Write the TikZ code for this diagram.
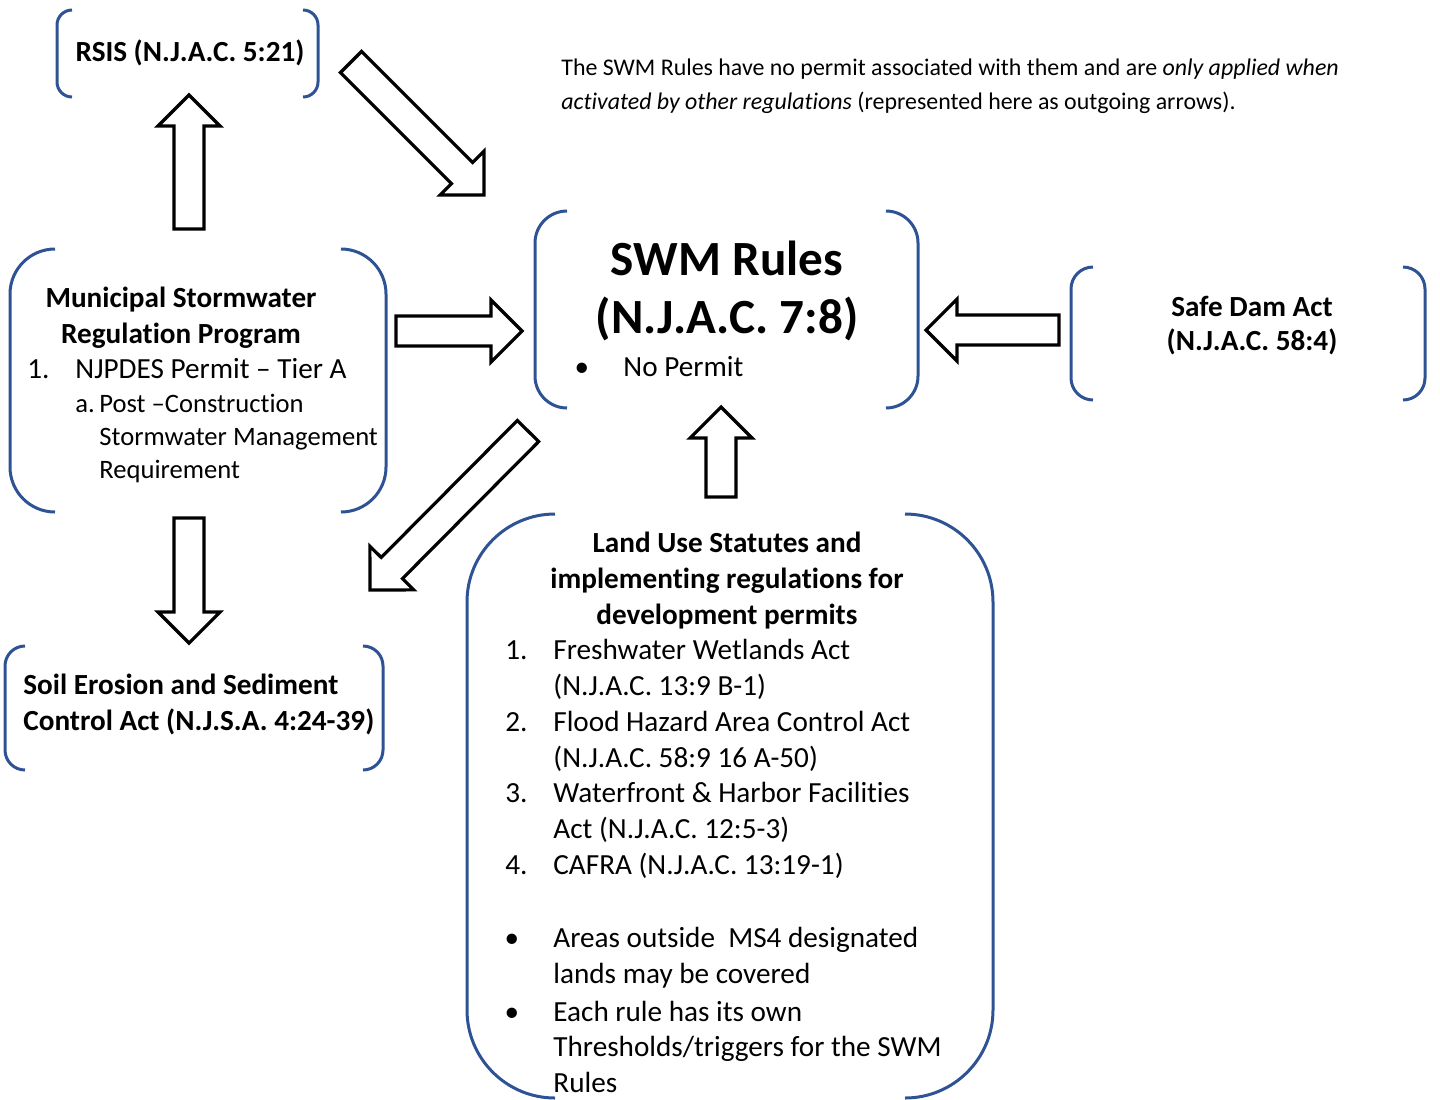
\documentclass[tikz,border=0pt]{standalone}
\usepackage{fontspec}
\setmainfont{Carlito}[Ligatures={TeX,NoCommon}]
\usetikzlibrary{calc}
\definecolor{brkblue}{RGB}{46,83,148}
\tikzset{
  brkline/.style={draw=brkblue, line width=1.5pt},
  barrow/.style={draw=black, line width=1.6pt, fill=white, line join=miter},
  body/.style={font=\fontsize{14.6}{17.9}\selectfont, inner sep=0pt, anchor=base west},
  bodyb/.style={font=\fontsize{14.6}{17.9}\selectfont\bfseries, inner sep=0pt, anchor=base west},
  subtxt/.style={font=\fontsize{13.3}{16.5}\selectfont, inner sep=0pt, anchor=base west},
  note/.style={font=\fontsize{11.95}{17}\selectfont, inner sep=0pt, anchor=base west},
  title/.style={font=\fontsize{24.6}{29}\selectfont\bfseries, inner sep=0pt, anchor=base},
}
% left+right bracket pair: x1,y1,x2,y2, radius in px
\newcommand{\bracketpair}[5]{%
  \draw[brkline, rounded corners=#5*0.5pt] (#1+#5,#2) -- (#1,#2) -- (#1,#4) -- (#1+#5,#4);
  \draw[brkline, rounded corners=#5*0.5pt] (#3-#5,#2) -- (#3,#2) -- (#3,#4) -- (#3-#5,#4);
}
% block arrow from named coordinate #1 (tail) to #2 (tip)
\newcommand{\blockarrow}[2]{%
  \coordinate (hb) at ($(#2)!15.5pt!(#1)$);
  \draw[barrow] ($(#1)!7.5pt!90:(#2)$) -- ($(hb)!7.5pt!90:(#2)$) -- ($(hb)!15.5pt!90:(#2)$)
     -- (#2) -- ($(hb)!15.5pt!-90:(#2)$) -- ($(hb)!7.5pt!-90:(#2)$) -- ($(#1)!7.5pt!-90:(#2)$) -- cycle;
}
\begin{document}
\begin{tikzpicture}[x=0.5pt,y=-0.5pt]
\useasboundingbox (0,0) rectangle (1440,1099);

% ---------- brackets ----------
\bracketpair{57}{10}{318}{97}{15}
\bracketpair{535}{211}{918}{408}{32}
\bracketpair{10}{249}{386}{512}{45}
\bracketpair{1071}{267}{1425}{400}{22}
\bracketpair{5}{646}{383}{770}{20}
\bracketpair{467}{514}{993}{1098}{88}

% ---------- RSIS ----------
\node[bodyb, anchor=base] (rsis) at (190,61) {RSIS (N.J.A.C. 5:21)};

% ---------- note ----------
\node[note] (note1) at (561,75) {The SWM Rules have no permit associated with them and are \textit{only applied when}};
\node[note] (note2) at (561,109) {\textit{activated by other regulations} (represented here as outgoing arrows).};

% ---------- SWM Rules ----------
\node[title] (swm1) at (727,275) {SWM Rules};
\node[title] (swm2) at (727,333) {(N.J.A.C. 7:8)};
\node[body, anchor=base] (swmb) at (582,376) {•};
\node[body] (swmt) at (623,376) {No Permit};

% ---------- Municipal ----------
\node[bodyb, anchor=base] (mun1) at (181,307) {Municipal Stormwater};
\node[bodyb, anchor=base] (mun2) at (181,343) {Regulation Program};
\node[body] (mun3n) at (27,378) {1.};
\node[body] (mun3) at (75,378) {NJPDES Permit – Tier A};
\node[subtxt] (mun4n) at (75,412) {a.};
\node[subtxt] (mun4) at (99,412) {Post –Construction};
\node[subtxt] (mun5) at (99,445) {Stormwater Management};
\node[subtxt] (mun6) at (99,478) {Requirement};

% ---------- Safe Dam ----------
\node[bodyb, anchor=base] (dam1) at (1252,316) {Safe Dam Act};
\node[bodyb, anchor=base] (dam2) at (1252,350) {(N.J.A.C. 58:4)};

% ---------- Soil Erosion ----------
\node[bodyb] (soil1) at (23,694) {Soil Erosion and Sediment};
\node[bodyb] (soil2) at (23,730) {Control Act (N.J.S.A. 4:24-39)};

% ---------- Land Use ----------
\node[bodyb, anchor=base] (lu1) at (727,552) {Land Use Statutes and};
\node[bodyb, anchor=base] (lu2) at (727,588) {implementing regulations for};
\node[bodyb, anchor=base] (lu3) at (727,624) {development permits};
\node[body] (lu4n) at (505,659) {1.};
\node[body] (lu4) at (553,659) {Freshwater Wetlands Act};
\node[body] (lu5) at (553,695) {(N.J.A.C. 13:9 B-1)};
\node[body] (lu6n) at (505,731) {2.};
\node[body] (lu6) at (553,731) {Flood Hazard Area Control Act};
\node[body] (lu7) at (553,767) {(N.J.A.C. 58:9 16 A-50)};
\node[body] (lu8n) at (505,802) {3.};
\node[body] (lu8) at (553,802) {Waterfront \& Harbor Facilities};
\node[body] (lu9) at (553,838) {Act (N.J.A.C. 12:5-3)};
\node[body] (lu10n) at (505,874) {4.};
\node[body] (lu10) at (553,874) {CAFRA (N.J.A.C. 13:19-1)};
\node[body, anchor=base] (lu11b) at (512,947) {•};
\node[body] (lu11) at (553,947) {Areas outside\ \ MS4 designated};
\node[body] (lu12) at (553,983) {lands may be covered};
\node[body, anchor=base] (lu13b) at (512,1021) {•};
\node[body] (lu13) at (553,1021) {Each rule has its own};
\node[body] (lu14) at (553,1056) {Thresholds/triggers for the SWM};
\node[body] (lu15) at (553,1092) {Rules};

% ---------- block arrows ----------
\coordinate (a1t) at (189,229); \coordinate (a1h) at (189,95);
\coordinate (a2t) at (351,62);  \coordinate (a2h) at (484,195);
\coordinate (a3t) at (396,331); \coordinate (a3h) at (522,331);
\coordinate (a4t) at (1059,330); \coordinate (a4h) at (926,330);
\coordinate (a5t) at (721,497); \coordinate (a5h) at (721,407);
\coordinate (a6t) at (189,518); \coordinate (a6h) at (189,643);
\coordinate (a7t) at (528,431); \coordinate (a7h) at (370,590);
\blockarrow{a1t}{a1h}
\blockarrow{a2t}{a2h}
\blockarrow{a3t}{a3h}
\blockarrow{a4t}{a4h}
\blockarrow{a5t}{a5h}
\blockarrow{a6t}{a6h}
\blockarrow{a7t}{a7h}
\end{tikzpicture}
\end{document}
